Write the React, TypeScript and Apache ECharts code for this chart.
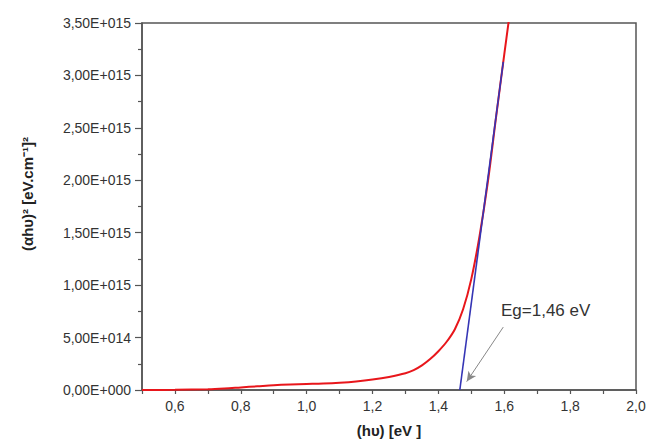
import React, { useEffect, useRef } from "react";
import * as echarts from "echarts";

const energyEv = [0.5, 0.6, 0.7, 0.75, 0.8, 0.85, 0.9, 0.95, 1.0, 1.05, 1.1, 1.15, 1.2, 1.25, 1.3, 1.325, 1.35, 1.375, 1.4, 1.425, 1.45, 1.475, 1.5, 1.525, 1.55, 1.575, 1.6, 1.617];
const absorptionSq = [0, 0.002e15, 0.008e15, 0.015e15, 0.025e15, 0.035e15, 0.045e15, 0.052e15, 0.057e15, 0.062e15, 0.07e15, 0.082e15, 0.1e15, 0.125e15, 0.16e15, 0.19e15, 0.235e15, 0.295e15, 0.37e15, 0.46e15, 0.58e15, 0.77e15, 1.06e15, 1.47e15, 1.98e15, 2.6e15, 3.2e15, 3.6e15];
const fitX = [1.465, 1.597];
const fitY = [0, 3.13e15];
const arrowFrom = [1.597, 0.6e15];
const arrowTo = [1.486, 0.08e15];
const annotation = "Eg=1,46 eV";
const xTitle = "(h\u03c5) [eV ]";
const yTitle = "(\u03b1h\u03c5)\u00b2 [eV.cm\u207b\u00b9]\u00b2";

function fmtY(v: number): string {
  if (v === 0) return "0,00E+000";
  const exp = Math.floor(Math.log10(v) + 1e-9);
  const mant = v / Math.pow(10, exp);
  return mant.toFixed(2).replace(".", ",") + "E+" + String(exp).padStart(3, "0");
}

export default function App() {
  const ref = useRef<HTMLDivElement>(null);
  useEffect(() => {
    if (!ref.current) return;
    const chart = echarts.init(ref.current, null, { renderer: "svg" });
    const font = "Liberation Sans, Arial, sans-serif";
    chart.setOption({
      animation: false,
      backgroundColor: "#ffffff",
      grid: { left: 142, right: 18, top: 23, bottom: 54, show: true, borderColor: "#555", borderWidth: 1.5, backgroundColor: "transparent" },
      xAxis: {
        type: "value",
        min: 0.5,
        max: 2.0,
        interval: 0.1,
        name: xTitle,
        nameLocation: "middle",
        nameGap: 33,
        nameTextStyle: { fontFamily: font, fontSize: 15, fontWeight: "bold", color: "#222" },
        axisLine: { show: true, lineStyle: { color: "#555", width: 1.5 } },
        axisTick: { show: true, inside: false, length: 4, lineStyle: { color: "#555", width: 1.2 } },
        axisLabel: {
          fontFamily: font,
          fontSize: 14,
          color: "#333",
          margin: 9,
          formatter: (v: number) => (Math.round(v * 10) % 2 === 0 ? v.toFixed(1).replace(".", ",") : ""),
        },
        splitLine: { show: false },
      },
      yAxis: {
        type: "value",
        min: 0,
        max: 3.5e15,
        interval: 0.5e15,
        axisLine: { show: true, lineStyle: { color: "#555", width: 1.5 } },
        axisTick: { show: true, inside: false, length: 7, lineStyle: { color: "#555", width: 1.2 } },
        minorTick: { show: true, splitNumber: 2, length: 4, lineStyle: { color: "#555", width: 1.2 } },
        axisLabel: { fontFamily: font, fontSize: 14, color: "#333", margin: 11, formatter: fmtY },
        splitLine: { show: false },
      },
      series: [
        {
          type: "line",
          data: energyEv.map((x, i) => [x, absorptionSq[i]]),
          smooth: 0.35,
          showSymbol: false,
          clip: true,
          lineStyle: { color: "#e8161b", width: 2 },
          z: 2,
        },
        {
          type: "line",
          data: fitX.map((x, i) => [x, fitY[i]]),
          showSymbol: false,
          clip: true,
          lineStyle: { color: "#3535b5", width: 1.6 },
          z: 3,
          markLine: {
            silent: true,
            symbol: ["none", "arrow"],
            symbolSize: [7, 10],
            label: { show: false },
            lineStyle: { color: "#888", width: 1, type: "solid" },
            data: [[{ coord: arrowFrom }, { coord: arrowTo, itemStyle: { color: "#111" } }]],
          },
        },
      ],
      graphic: [
        {
          type: "text",
          left: 501,
          top: 302,
          style: { text: annotation, fontFamily: font, fontSize: 17, fill: "#333" },
        },
        {
          type: "text",
          x: 27,
          y: 194,
          rotation: Math.PI / 2,
          style: { text: yTitle, fontFamily: font, fontSize: 15, fontWeight: "bold", fill: "#222", align: "center", verticalAlign: "middle" },
        },
      ],
    });
    return () => chart.dispose();
  }, []);
  return <div ref={ref} style={{ position: "absolute", left: 0, top: 0, width: 654, height: 444 }} />;
}
